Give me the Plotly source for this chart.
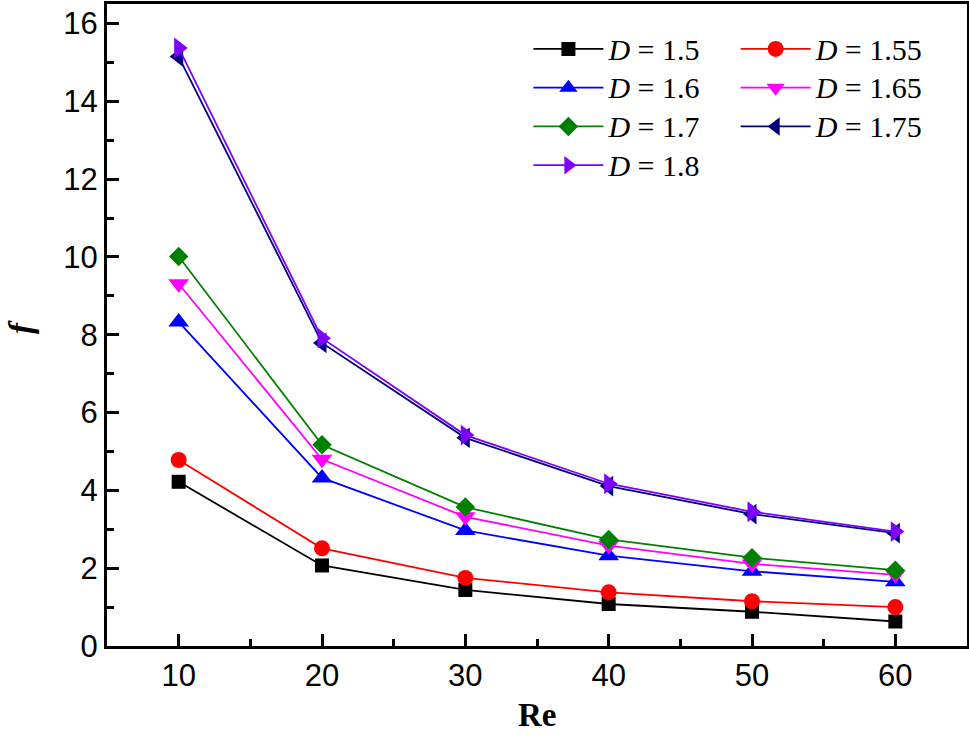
import plotly.graph_objects as go

# Re numbers on the x axis
re_vals = [10, 20, 30, 40, 50, 60]

# friction factor f for every D
f_d150 = [4.22, 2.07, 1.44, 1.08, 0.88, 0.63]
f_d155 = [4.78, 2.51, 1.75, 1.38, 1.15, 1.00]
f_d160 = [8.33, 4.32, 2.97, 2.32, 1.92, 1.65]
f_d165 = [9.31, 4.80, 3.32, 2.58, 2.11, 1.83]
f_d170 = [10.01, 5.17, 3.57, 2.74, 2.27, 1.95]
f_d175 = [15.15, 7.79, 5.35, 4.11, 3.39, 2.90]
f_d180 = [15.37, 7.91, 5.42, 4.17, 3.45, 2.94]

d_labels = ["1.5", "1.55", "1.6", "1.65", "1.7", "1.75", "1.8"]

series = [f_d150, f_d155, f_d160, f_d165, f_d170, f_d175, f_d180]
colors = ["#000000", "#FF0000", "#0000FF", "#FF00FF", "#008000", "#000080", "#7F00FF"]
symbols = ["square", "circle", "triangle-up", "triangle-down", "diamond",
           "triangle-left", "triangle-right"]
sizes = [14, 16, 18, 18, 15, 18, 18]
# two legend columns like the original (left: 1.5,1.6,1.7,1.8 / right: 1.55,1.65,1.75)
legend_ids = ["legend", "legend2", "legend", "legend2", "legend", "legend2", "legend"]

fig = go.Figure()
for lab, ys, col, sym, sz, lg in zip(d_labels, series, colors, symbols, sizes, legend_ids):
    fig.add_trace(go.Scatter(
        x=re_vals, y=ys,
        mode="lines+markers",
        # bigger span text, smaller legend font -> tighter rows
        name='<span style="font-size:30px"><i>D</i> = ' + lab + "</span>",
        legend=lg,
        line=dict(color=col, width=1.8),
        marker=dict(symbol=sym, size=sz, color=col, line=dict(width=0)),
    ))

axis_common = dict(
    showline=True, linecolor="black", linewidth=3, mirror=True,
    ticks="inside", tickcolor="black", tickwidth=3, ticklen=12,
    showgrid=False, zeroline=False, automargin=False,
    tickfont=dict(family="Liberation Sans, Arial", size=31, color="black"),
)

legend_font = dict(family="Liberation Serif, Times New Roman", size=27.5, color="black")

fig.update_layout(
    width=969, height=737,
    margin=dict(l=107, r=2, t=4, b=91),
    plot_bgcolor="white", paper_bgcolor="white",
    showlegend=True,
    xaxis=dict(
        range=[5, 65], tickvals=[10, 20, 30, 40, 50, 60],
        minor=dict(tickvals=[15, 25, 35, 45, 55], ticks="inside",
                   ticklen=7, tickwidth=3, tickcolor="black"),
        **axis_common,
    ),
    yaxis=dict(
        range=[0, 16.5], tickvals=[0, 2, 4, 6, 8, 10, 12, 14, 16],
        minor=dict(tickvals=[1, 3, 5, 7, 9, 11, 13, 15], ticks="inside",
                   ticklen=7, tickwidth=3, tickcolor="black"),
        **axis_common,
    ),
    legend=dict(
        x=0.49, y=0.968, xanchor="left", yanchor="top",
        itemwidth=70, tracegroupgap=0,
        bgcolor="rgba(0,0,0,0)", font=legend_font,
    ),
    legend2=dict(
        x=0.731, y=0.968, xanchor="left", yanchor="top",
        itemwidth=70, tracegroupgap=0,
        bgcolor="rgba(0,0,0,0)", font=legend_font,
    ),
    annotations=[
        dict(text="<b>Re</b>", x=0.5, y=-0.107, xref="paper", yref="paper",
             xanchor="center", yanchor="middle", showarrow=False,
             font=dict(family="Liberation Serif, Times New Roman", size=33, color="black")),
        dict(text="<b><i>f</i></b>", x=-0.1, y=0.497, xref="paper", yref="paper",
             xanchor="center", yanchor="middle", showarrow=False, textangle=-90,
             font=dict(family="Liberation Serif, Times New Roman", size=33, color="black")),
    ],
)

# drop the browser's default 8px body margin so the figure sits at the window's corner
fig.write_html("out.html", config={"displayModeBar": False},
               post_script="document.body.style.margin='0';")
